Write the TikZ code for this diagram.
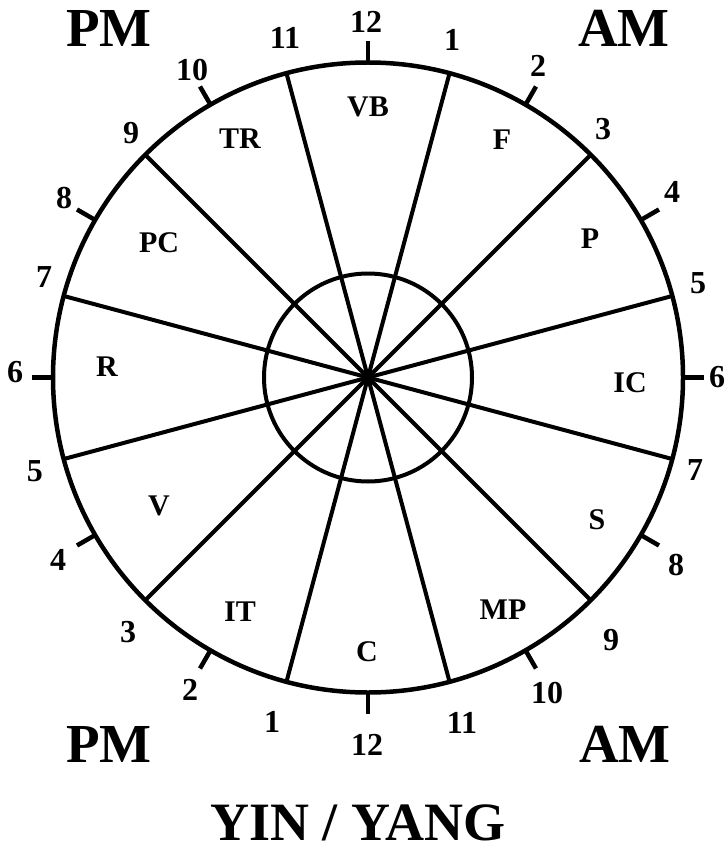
\documentclass[tikz,border=0pt]{standalone}
\usepackage{fontspec}
\setmainfont{Liberation Serif}
\begin{document}
\begin{tikzpicture}[x=1pt,y=-1pt,
  num/.style={font=\fontsize{32}{32}\selectfont\bfseries, inner sep=0pt},
  seg/.style={font=\fontsize{30}{30}\selectfont\bfseries, inner sep=0pt},
  big/.style={font=\fontsize{55}{55}\selectfont\bfseries, inner sep=0pt, anchor=base},
  rim/.style={line width=4.5pt},
  spoke/.style={line width=4pt}]
\useasboundingbox (0,0) rectangle (726,853);
\coordinate (O) at (368,377.5);
% spokes
\foreach \a in {15,45,...,345} {
  \path (O) ++(\a:315) coordinate (s\a);
  \draw[spoke] (O) -- (s\a);
}
% circles
\draw[spoke] (O) circle[radius=104];
\draw[rim] (O) circle[radius=315];
% ticks
\foreach \a in {0,30,...,330} {
  \path (O) ++(\a:314) coordinate (ti\a);
  \path (O) ++(\a:336) coordinate (to\a);
  \draw[rim] (ti\a) -- (to\a);
}
% AM numbers (right)
\node[num] (a1) at (452,40) {1};
\node[num] (a2) at (538,66) {2};
\node[num] (a3) at (603,129) {3};
\node[num] (a4) at (672,192) {4};
\node[num] (a5) at (698,283) {5};
\node[num] (a6) at (717,377) {6};
\node[num] (a7) at (695,470) {7};
\node[num] (a8) at (676,565) {8};
\node[num] (a9) at (611,640) {9};
\node[num] (a10) at (547,693) {10};
\node[num] (a11) at (462,723) {11};
\node[num] (a12) at (367,745) {12};
% PM numbers (left)
\node[num] (p1) at (272,722) {1};
\node[num] (p2) at (190,690) {2};
\node[num] (p3) at (128,632) {3};
\node[num] (p4) at (58,560) {4};
\node[num] (p5) at (35,471) {5};
\node[num] (p6) at (15,372) {6};
\node[num] (p7) at (44,277) {7};
\node[num] (p8) at (64,198) {8};
\node[num] (p9) at (131,133) {9};
\node[num] (p10) at (192,70) {10};
\node[num] (p11) at (285,38) {11};
\node[num] (p12) at (366,22) {12};
% segment labels
\node[seg] (vb) at (368,107) {VB};
\node[seg] (f)  at (502,140) {F};
\node[seg] (p)  at (590,239) {P};
\node[seg] (ic) at (630,383) {IC};
\node[seg] (s)  at (597,520) {S};
\node[seg] (mp) at (503,610) {MP};
\node[seg] (c)  at (367,652) {C};
\node[seg] (it) at (240,612) {IT};
\node[seg] (v)  at (159,506) {V};
\node[seg] (r)  at (107,367) {R};
\node[seg] (pc) at (159,243) {PC};
\node[seg] (tr) at (240,139) {TR};
% big labels
\node[big] (pmt) at (109,47) {PM};
\node[big] (amt) at (624,47) {AM};
\node[big] (pmb) at (109,762) {PM};
\node[big] (amb) at (625,762) {AM};
\node[big, font=\fontsize{54}{54}\selectfont\bfseries] (yy) at (358,840) {YIN / YANG};
\end{tikzpicture}
\end{document}
